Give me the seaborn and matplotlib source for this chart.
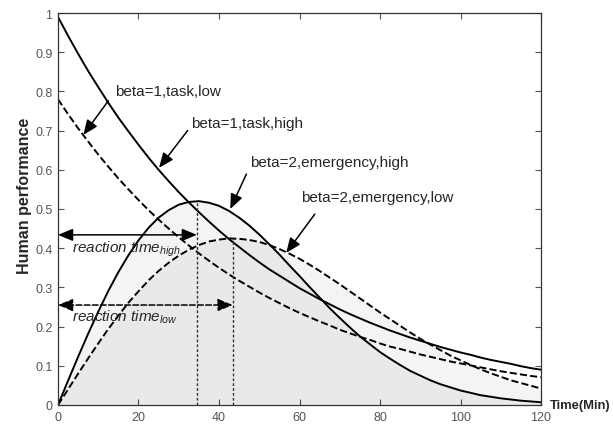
import numpy as np
import matplotlib
matplotlib.use("Agg")
import matplotlib.pyplot as plt
import seaborn as sns

# values, every 2.5 min
time = [0, 2.5, 5, 7.5, 10, 12.5, 15, 17.5, 20, 22.5, 25, 27.5, 30, 32.5,
        35, 37.5, 40, 42.5, 45, 47.5, 50, 52.5, 55, 57.5, 60, 62.5, 65,
        67.5, 70, 72.5, 75, 77.5, 80, 82.5, 85, 87.5, 90, 92.5, 95, 97.5,
        100, 102.5, 105, 107.5, 110, 112.5, 115, 117.5, 120]
task_high = [0.990, 0.942, 0.896, 0.852, 0.811, 0.771, 0.733, 0.698, 0.664,
             0.631, 0.600, 0.571, 0.543, 0.517, 0.492, 0.468, 0.445, 0.423,
             0.403, 0.383, 0.364, 0.346, 0.330, 0.314, 0.298, 0.284, 0.270,
             0.257, 0.244, 0.232, 0.221, 0.210, 0.200, 0.190, 0.181, 0.172,
             0.164, 0.156, 0.148, 0.141, 0.134, 0.128, 0.121, 0.115, 0.110,
             0.105, 0.099, 0.094, 0.090]
task_low = [0.780, 0.742, 0.706, 0.672, 0.639, 0.608, 0.578, 0.550, 0.523,
            0.497, 0.473, 0.450, 0.428, 0.407, 0.387, 0.368, 0.350, 0.333,
            0.317, 0.302, 0.287, 0.273, 0.260, 0.247, 0.235, 0.224, 0.213,
            0.203, 0.192, 0.183, 0.174, 0.166, 0.157, 0.149, 0.143, 0.136,
            0.129, 0.123, 0.117, 0.111, 0.106, 0.101, 0.096, 0.091, 0.086,
            0.082, 0.078, 0.074, 0.071]
emerg_high = [0.0, 0.062, 0.123, 0.182, 0.238, 0.291, 0.339, 0.382, 0.420,
              0.452, 0.478, 0.497, 0.511, 0.518, 0.520, 0.516, 0.508, 0.495,
              0.478, 0.458, 0.435, 0.410, 0.384, 0.356, 0.329, 0.301, 0.274,
              0.247, 0.222, 0.198, 0.175, 0.155, 0.135, 0.118, 0.102, 0.087,
              0.075, 0.063, 0.053, 0.045, 0.037, 0.031, 0.025, 0.021, 0.017,
              0.014, 0.011, 0.009, 0.007]
emerg_low = [0.0, 0.040, 0.080, 0.119, 0.157, 0.194, 0.228, 0.261, 0.290,
             0.318, 0.342, 0.363, 0.381, 0.396, 0.408, 0.417, 0.422, 0.425,
             0.424, 0.421, 0.416, 0.408, 0.398, 0.386, 0.373, 0.358, 0.342,
             0.325, 0.308, 0.290, 0.272, 0.254, 0.236, 0.219, 0.202, 0.185,
             0.169, 0.154, 0.140, 0.126, 0.114, 0.102, 0.091, 0.081, 0.072,
             0.063, 0.056, 0.049, 0.042]

# reaction times (peak positions) and levels of the double arrows
peak_high = (34.5, 0.52)
peak_low = (43.4, 0.425)
arrow_high_y = 0.434
arrow_low_y = 0.255

sns.set_style("ticks")
plt.rcParams['font.family'] = ['Liberation Sans', 'DejaVu Sans']
plt.rcParams['mathtext.fontset'] = 'custom'
plt.rcParams['mathtext.it'] = 'Liberation Sans:italic'
plt.rcParams['mathtext.rm'] = 'Liberation Sans'

fig = plt.figure(figsize=(6.13, 4.27), dpi=100)
ax = fig.add_axes([0.0946, 0.0492, 0.788, 0.918])

# shaded areas under the two emergency curves
ax.fill_between(time, emerg_high, color='k', alpha=0.045, lw=0)
ax.fill_between(time, emerg_low, color='k', alpha=0.045, lw=0)

sns.lineplot(x=time, y=task_high, ax=ax, color='k', lw=1.4)
sns.lineplot(x=time, y=task_low, ax=ax, color='k', lw=1.4, linestyle='--')
sns.lineplot(x=time, y=emerg_high, ax=ax, color='k', lw=1.4)
sns.lineplot(x=time, y=emerg_low, ax=ax, color='k', lw=1.4, linestyle='--')

# vertical dotted lines at the peaks
ax.plot([peak_high[0], peak_high[0]], [0, peak_high[1]], color='#333333', lw=1,
        linestyle=(0, (2, 1.5)))
ax.plot([peak_low[0], peak_low[0]], [0, peak_low[1]], color='#333333', lw=1,
        linestyle=(0, (2, 1.5)))

head = '<|-|>,head_length=0.6,head_width=0.25'
ax.annotate('', xy=(peak_high[0], arrow_high_y), xytext=(0, arrow_high_y),
            arrowprops=dict(arrowstyle=head, color='k', lw=1.1,
                            shrinkA=0, shrinkB=0, mutation_scale=15))
ax.annotate('', xy=(peak_low[0], arrow_low_y), xytext=(0, arrow_low_y),
            arrowprops=dict(arrowstyle=head, color='k', lw=1.1, linestyle='--',
                            shrinkA=0, shrinkB=0, mutation_scale=15))
ax.text(3.4, 0.40, r'$reaction\ time_{high}$', fontsize=11, va='center')
ax.text(3.4, 0.227, r'$reaction\ time_{low}$', fontsize=11, va='center')

# curve labels with arrows
labels = [
    ('beta=1,task,low', (14.1, 0.80), (12.5, 0.776), (6.3, 0.689)),
    ('beta=1,task,high', (33.0, 0.719), (32.2, 0.70), (25.1, 0.605)),
    ('beta=2,emergency,high', (47.6, 0.62), (46.8, 0.589), (42.8, 0.50)),
    ('beta=2,emergency,low', (60.3, 0.53), (63.8, 0.487), (56.7, 0.388)),
]
one = '-|>,head_length=0.6,head_width=0.25'
for txt, pos, tail, tip in labels:
    ax.text(pos[0], pos[1], txt, fontsize=11, va='center', ha='left')
    ax.annotate('', xy=tip, xytext=tail,
                arrowprops=dict(arrowstyle=one, color='k', lw=1.1,
                                shrinkA=0, shrinkB=0, mutation_scale=15))

ax.set_xlim(0, 120)
ax.set_ylim(0, 1)
ax.set_xticks([0, 20, 40, 60, 80, 100, 120])
ax.set_yticks([0, 0.1, 0.2, 0.3, 0.4, 0.5, 0.6, 0.7, 0.8, 0.9, 1])
ax.set_yticklabels(['0', '0.1', '0.2', '0.3', '0.4', '0.5', '0.6', '0.7',
                    '0.8', '0.9', '1'])
ax.tick_params(direction='in', top=True, right=True, length=4, width=0.8,
               color='#555555', labelcolor='#555555', labelsize=9)
ax.tick_params(axis='y', pad=4)
ax.tick_params(axis='x', pad=4)
for s in ax.spines.values():
    s.set_visible(True)
    s.set_color('#333333')
    s.set_linewidth(0.9)

ax.set_ylabel('Human performance', fontsize=11.5, fontweight='bold')
ax.yaxis.set_label_coords(-0.054, 0.536)
ax.set_xlabel('Time(Min)', fontsize=9.4, fontweight='bold', ha='left', va='center')
ax.xaxis.set_label_coords(1.018, 0.0)

fig.savefig('out.png', dpi=100)
